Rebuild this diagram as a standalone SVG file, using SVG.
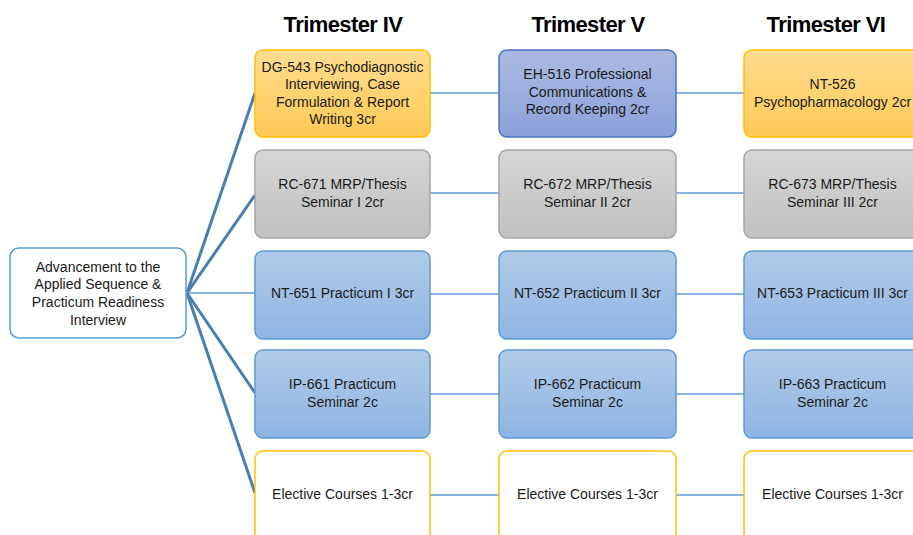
<svg xmlns="http://www.w3.org/2000/svg" width="913" height="535" viewBox="0 0 913 535">
<style>
.t{font-family:"Liberation Sans",Arial,sans-serif;font-size:14px;fill:#1a1a1a;text-anchor:middle}
.h{font-family:"Liberation Sans",Arial,sans-serif;font-size:22px;font-weight:bold;fill:#000;text-anchor:middle;letter-spacing:-0.6px}
.or{fill:url(#gOr);stroke:#ffc000;stroke-width:1.5}
.pu{fill:url(#gPu);stroke:#4a72c0;stroke-width:1.5}
.gr{fill:url(#gGr);stroke:#a5a5a5;stroke-width:1.5}
.bl{fill:url(#gBl);stroke:#5b9bd5;stroke-width:1.5}
.el{fill:#fff;stroke:#ffc000;stroke-width:1.5}
.hub{fill:#fff;stroke:#5b9bd5;stroke-width:1.5}
.c{stroke:#8db3e0;stroke-width:2;fill:none}
.d{stroke:#4a7eb0;stroke-width:3;fill:none}
</style>
<defs>
<linearGradient id="gOr" x1="0" y1="0" x2="0" y2="1"><stop offset="0" stop-color="#ffdc90"/><stop offset="1" stop-color="#ffca55"/></linearGradient>
<linearGradient id="gPu" x1="0" y1="0" x2="0" y2="1"><stop offset="0" stop-color="#abbae2"/><stop offset="1" stop-color="#8aa2da"/></linearGradient>
<linearGradient id="gGr" x1="0" y1="0" x2="0" y2="1"><stop offset="0" stop-color="#d6d6d6"/><stop offset="1" stop-color="#c0c0c0"/></linearGradient>
<linearGradient id="gBl" x1="0" y1="0" x2="0" y2="1"><stop offset="0" stop-color="#b0cbe9"/><stop offset="1" stop-color="#8fb4e2"/></linearGradient>
</defs>
<rect width="913" height="535" fill="#fff"/>
<g id="titles">
<text class="h" x="343" y="32">Trimester IV</text>
<text class="h" x="588" y="32">Trimester V</text>
<text class="h" x="826" y="32">Trimester VI</text>
</g>
<g id="connectors">
<line class="d" x1="187" y1="293" x2="255" y2="93"/>
<line class="d" x1="187" y1="293" x2="255" y2="195"/>
<line class="c" x1="187" y1="293" x2="255" y2="293"/>
<line class="d" x1="187" y1="293" x2="255" y2="393"/>
<line class="d" x1="187" y1="293" x2="255" y2="493"/>
<line class="c" x1="430" y1="93" x2="499" y2="93"/>
<line class="c" x1="676" y1="93" x2="744" y2="93"/>
<line class="c" x1="430" y1="193" x2="499" y2="193"/>
<line class="c" x1="676" y1="193" x2="744" y2="193"/>
<line class="c" x1="430" y1="294" x2="499" y2="294"/>
<line class="c" x1="676" y1="294" x2="744" y2="294"/>
<line class="c" x1="430" y1="394" x2="499" y2="394"/>
<line class="c" x1="676" y1="394" x2="744" y2="394"/>
<line class="c" x1="430" y1="495" x2="499" y2="495"/>
<line class="c" x1="676" y1="495" x2="744" y2="495"/>
</g>
<g id="hub">
<rect class="hub" x="10" y="248" width="176" height="90" rx="9"/>
<text class="t" x="98" y="272">Advancement to the</text>
<text class="t" x="98" y="289">Applied Sequence &amp;</text>
<text class="t" x="98" y="307">Practicum Readiness</text>
<text class="t" x="98" y="325">Interview</text>
</g>
<g id="dg543">
<rect class="or" x="255" y="50" width="175" height="87" rx="8"/>
<text class="t" x="342.5" y="72">DG-543 Psychodiagnostic</text>
<text class="t" x="342.5" y="89">Interviewing, Case</text>
<text class="t" x="342.5" y="107">Formulation &amp; Report</text>
<text class="t" x="342.5" y="124">Writing 3cr</text>
</g>
<g id="eh516">
<rect class="pu" x="499" y="50" width="177" height="87" rx="8"/>
<text class="t" x="587.5" y="79">EH-516 Professional</text>
<text class="t" x="587.5" y="97">Communications &amp;</text>
<text class="t" x="587.5" y="114">Record Keeping 2cr</text>
</g>
<g id="nt526">
<rect class="or" x="744" y="50" width="177" height="87" rx="8"/>
<text class="t" x="832.5" y="89">NT-526</text>
<text class="t" x="832.5" y="107">Psychopharmacology 2cr</text>
</g>
<g id="rc671">
<rect class="gr" x="255" y="150" width="175" height="88" rx="8"/>
<text class="t" x="342.5" y="189">RC-671 MRP/Thesis</text>
<text class="t" x="342.5" y="207">Seminar I 2cr</text>
</g>
<g id="rc672">
<rect class="gr" x="499" y="150" width="177" height="88" rx="8"/>
<text class="t" x="587.5" y="189">RC-672 MRP/Thesis</text>
<text class="t" x="587.5" y="207">Seminar II 2cr</text>
</g>
<g id="rc673">
<rect class="gr" x="744" y="150" width="177" height="88" rx="8"/>
<text class="t" x="832.5" y="189">RC-673 MRP/Thesis</text>
<text class="t" x="832.5" y="207">Seminar III 2cr</text>
</g>
<g id="nt651">
<rect class="bl" x="255" y="251" width="175" height="88" rx="8"/>
<text class="t" x="342.5" y="298">NT-651 Practicum I 3cr</text>
</g>
<g id="nt652">
<rect class="bl" x="499" y="251" width="177" height="88" rx="8"/>
<text class="t" x="587.5" y="298">NT-652 Practicum II 3cr</text>
</g>
<g id="nt653">
<rect class="bl" x="744" y="251" width="177" height="88" rx="8"/>
<text class="t" x="832.5" y="298">NT-653 Practicum III 3cr</text>
</g>
<g id="ip661">
<rect class="bl" x="255" y="350" width="175" height="88" rx="8"/>
<text class="t" x="342.5" y="389">IP-661 Practicum</text>
<text class="t" x="342.5" y="407">Seminar 2c</text>
</g>
<g id="ip662">
<rect class="bl" x="499" y="350" width="177" height="88" rx="8"/>
<text class="t" x="587.5" y="389">IP-662 Practicum</text>
<text class="t" x="587.5" y="407">Seminar 2c</text>
</g>
<g id="ip663">
<rect class="bl" x="744" y="350" width="177" height="88" rx="8"/>
<text class="t" x="832.5" y="389">IP-663 Practicum</text>
<text class="t" x="832.5" y="407">Seminar 2c</text>
</g>
<g id="el4">
<rect class="el" x="255" y="451" width="175" height="90" rx="8"/>
<text class="t" x="342.5" y="499">Elective Courses 1-3cr</text>
</g>
<g id="el5">
<rect class="el" x="499" y="451" width="177" height="90" rx="8"/>
<text class="t" x="587.5" y="499">Elective Courses 1-3cr</text>
</g>
<g id="el6">
<rect class="el" x="744" y="451" width="177" height="90" rx="8"/>
<text class="t" x="832.5" y="499">Elective Courses 1-3cr</text>
</g>
</svg>
